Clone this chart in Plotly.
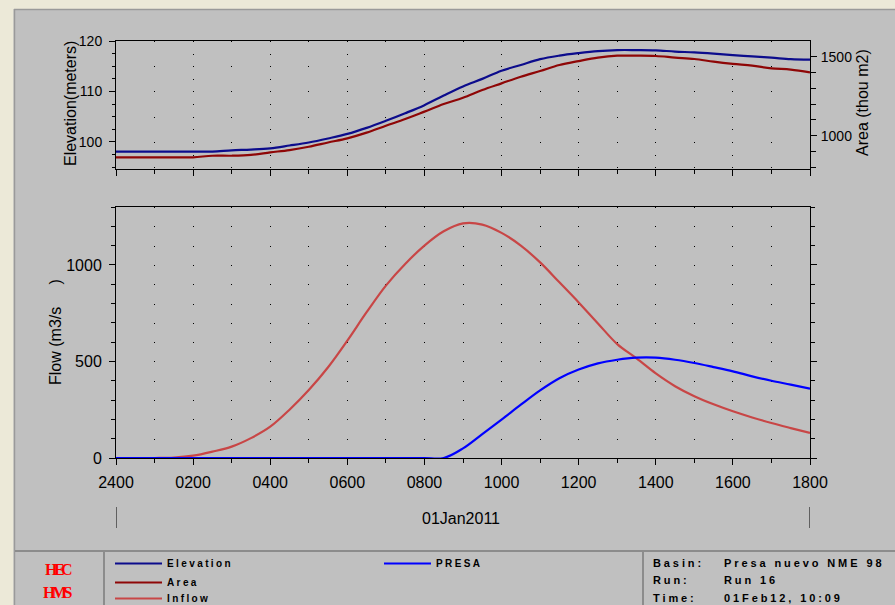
import plotly.graph_objects as go

# ---------------- data ----------------
hours = [0, 0.5, 1, 1.5, 2, 2.5, 3, 3.5, 4, 4.5, 5, 5.5, 6, 6.5, 7, 7.5, 8, 8.5, 9,
         9.5, 10, 10.5, 11, 11.5, 12, 12.5, 13, 13.5, 14, 14.5, 15, 15.5, 16, 16.5,
         17, 17.5, 18]
tick_hours = [0, 2, 4, 6, 8, 10, 12, 14, 16, 18]
tick_labels = ["2400", "0200", "0400", "0600", "0800", "1000", "1200", "1400", "1600", "1800"]

elevation = [98.1, 98.1, 98.1, 98.1, 98.1, 98.1, 98.35, 98.5, 98.75, 99.3, 99.9, 100.7,
             101.6, 102.8, 104.2, 105.7, 107.3, 109.2, 111.0, 112.5, 114.1, 115.25, 116.4,
             117.1, 117.6, 118.0, 118.2, 118.2, 118.15, 117.9, 117.75, 117.5, 117.2,
             116.95, 116.7, 116.4, 116.3]
area = [863, 863, 863, 863, 863, 873, 873, 878, 894, 909, 930, 957, 983, 1019, 1063, 1105,
        1152, 1200, 1240, 1289, 1331, 1373, 1409, 1447, 1472, 1494, 1506, 1506, 1504, 1494,
        1485, 1468, 1454, 1443, 1426, 1418, 1401]
inflow = [0, 0, 0, 2, 12, 33, 59, 103, 162, 250, 352, 470, 608, 755, 893, 1005, 1100, 1174,
          1215, 1209, 1166, 1100, 1013, 910, 806, 697, 590, 516, 438, 372, 320, 278, 242,
          210, 181, 155, 130]
presa = [0, 0, 0, 0, 0, 0, 0, 0, 0, 0, 0, 0, 0, 0, 0, 0, 0, 0, 50, 124, 199, 276, 350,
         413, 458, 490, 509, 520, 520, 509, 492, 471, 449, 423, 400, 380, 359]

elev_ticks = [100, 110, 120]
area_ticks = [1000, 1500]
flow_ticks = [0, 500, 1000]

series_names = ["Elevation", "Area", "Inflow", "PRESA"]
date_label = "01Jan2011"
info_labels = ["Basin:", "Run:", "Time:"]
info_values = ["Presa nuevo NME 98", "Run 16", "01Feb12, 10:09"]

# ---------------- geometry / style ----------------
W, H = 895, 605


def fx(p):
    return p / W


def fy(p):
    return 1 - p / H


PL, PR = 116, 810
TT, TB = 41, 169
BT, BB = 207, 458

BG = "#C0C0C0"
C_ELEV = "#0C0C8C"
C_AREA = "#8E0606"
C_INFL = "#C84646"
C_PRESA = "#0000FF"

SANS = "Liberation Sans, Arial, sans-serif"
tickfont = dict(family=SANS, size=16, color="black")
tickfont_top = dict(family=SANS, size=14, color="black")

top_len = TB - TT
elev_range = [94.65, 120]
px_per_m = top_len / (elev_range[1] - elev_range[0])
bot_len = BB - BT
flow_range = [0, 1300]
px_per_100 = bot_len / (flow_range[1] - flow_range[0]) * 100

dash_even = "1px,%.3fpx" % (2.5 * px_per_m - 1)
dash_odd = "1px,%.3fpx" % (5 * px_per_m - 1)
dash_bot = "1px,%.3fpx" % (px_per_100 - 1)


def spaced(t, s):
    return "<span style='letter-spacing:%spx'>%s</span>" % (s, t)


legend_ids = ["legend", "legend3", "legend4", "legend2"]
SMOOTH = 1.0

fig = go.Figure()
fig.add_trace(go.Scatter(x=hours, y=elevation, xaxis="x", yaxis="y", mode="lines",
                         name=spaced(series_names[0], 2.4), legend=legend_ids[0],
                         line=dict(color=C_ELEV, width=2.2, shape="spline", smoothing=SMOOTH)))
fig.add_trace(go.Scatter(x=hours, y=area, xaxis="x", yaxis="y2", mode="lines",
                         name=spaced(series_names[1], 2.4), legend=legend_ids[1],
                         line=dict(color=C_AREA, width=2.2, shape="spline", smoothing=SMOOTH)))
fig.add_trace(go.Scatter(x=hours, y=inflow, xaxis="x2", yaxis="y3", mode="lines",
                         name=spaced(series_names[2], 2.4), legend=legend_ids[2],
                         line=dict(color=C_INFL, width=2.2, shape="spline", smoothing=SMOOTH)))
fig.add_trace(go.Scatter(x=hours, y=presa, xaxis="x2", yaxis="y3", mode="lines",
                         name=spaced(series_names[3], 2.4), legend=legend_ids[3],
                         line=dict(color=C_PRESA, width=2.2, shape="spline", smoothing=SMOOTH)))

xdom = [fx(PL), fx(PR)]
x_base = dict(domain=xdom, range=[hours[0], hours[-1]], tickvals=tick_hours,
              ticktext=tick_labels, showline=True, mirror=True, linecolor="black",
              linewidth=1, ticks="outside", ticklen=6, tickcolor="black", zeroline=False,
              tickfont=tickfont, fixedrange=True)

top_minor = dict(dtick=1, tick0=0, ticks="outside", ticklen=4, tickcolor="black",
                 showgrid=True, griddash=dash_odd, gridcolor="black", gridwidth=1)
bot_minor = dict(dtick=1, tick0=0, ticks="outside", ticklen=4, tickcolor="black",
                 showgrid=True, griddash=dash_bot, gridcolor="black", gridwidth=1)

top_ticks_axis = dict(range=[hours[0], hours[-1]], tickvals=tick_hours, side="top",
                      showticklabels=False, ticks="inside", ticklen=6, tickcolor="black",
                      showgrid=False, showline=False, zeroline=False,
                      minor=dict(dtick=1, tick0=0, ticks="inside", ticklen=4,
                                 tickcolor="black", showgrid=False))

legend_style = dict(xanchor="left", yanchor="top", bgcolor="rgba(0,0,0,0)", borderwidth=0,
                    itemwidth=47, font=dict(family=SANS, size=10, color="black",
                                            weight="bold"))
legend_pos = {"legend": (110, 563), "legend3": (110, 582), "legend4": (110, 598),
              "legend2": (379, 563)}
legend_layout = {k: dict(legend_style, x=fx(v[0]), y=fy(v[1] - 14))
                 for k, v in legend_pos.items()}

fig.update_layout(
    width=W, height=H, autosize=False,
    margin=dict(l=0, r=0, t=0, b=0, pad=0, autoexpand=False),
    paper_bgcolor=BG, plot_bgcolor=BG,
    font=dict(family=SANS, size=16, color="black"),
    xaxis=dict(**x_base, anchor="y", showticklabels=False, showgrid=True,
               griddash=dash_even, gridcolor="black", gridwidth=1, minor=top_minor),
    xaxis2=dict(**x_base, anchor="y3", showticklabels=True, ticklabelstandoff=4,
                showgrid=True, griddash=dash_bot, gridcolor="black", gridwidth=1,
                minor=bot_minor),
    xaxis3=dict(**top_ticks_axis, overlaying="x", anchor="y"),
    xaxis4=dict(**top_ticks_axis, overlaying="x2", anchor="y3"),
    yaxis=dict(domain=[fy(TB), fy(TT)], anchor="x", range=elev_range, tickvals=elev_ticks,
               showline=True, linecolor="black", linewidth=1, ticks="outside", ticklen=6,
               tickcolor="black", showgrid=False, zeroline=False, tickfont=tickfont_top,
               ticklabelstandoff=4, fixedrange=True,
               minor=dict(dtick=2.5, tick0=0, ticks="outside", ticklen=3,
                          tickcolor="black", showgrid=False)),
    yaxis2=dict(overlaying="y", side="right", anchor="x", range=[789, 1599],
                tickvals=area_ticks, showline=True, linecolor="black", linewidth=1,
                ticks="outside", ticklen=6, tickcolor="black", showgrid=False,
                zeroline=False, tickfont=tickfont_top, ticklabelstandoff=1, fixedrange=True,
                minor=dict(dtick=100, tick0=0, ticks="outside", ticklen=5,
                           tickcolor="black", showgrid=False)),
    yaxis3=dict(domain=[fy(BB), fy(BT)], anchor="x2", range=flow_range, tickvals=flow_ticks,
                showline=True, mirror="ticks", linecolor="black", linewidth=1,
                ticks="outside", ticklen=6, tickcolor="black", showgrid=False,
                zeroline=False, tickfont=tickfont, ticklabelstandoff=4, fixedrange=True,
                minor=dict(dtick=100, tick0=0, ticks="outside", ticklen=4,
                           tickcolor="black", showgrid=False)),
    showlegend=True,
    **legend_layout,
)

shapes = [
    # window frame (beige strips) and panel border
    dict(type="rect", xref="paper", yref="paper", x0=0, x1=1, y0=fy(9), y1=1,
         fillcolor="#ECE9D8", line=dict(width=0), layer="below"),
    dict(type="rect", xref="paper", yref="paper", x0=0, x1=fx(13.5), y0=0, y1=1,
         fillcolor="#ECE9D8", line=dict(width=0), layer="below"),
    dict(type="line", xref="paper", yref="paper", x0=fx(14), x1=1, y0=fy(9.5), y1=fy(9.5),
         line=dict(color="#9a9a9a", width=1.5)),
    dict(type="line", xref="paper", yref="paper", x0=fx(14.5), x1=fx(14.5), y0=0, y1=fy(9),
         line=dict(color="#9a9a9a", width=1.5)),
    # legend panel separators
    dict(type="line", xref="paper", yref="paper", x0=fx(15), x1=1, y0=fy(551), y1=fy(551),
         line=dict(color="#8c8c8c", width=2)),
    dict(type="line", xref="paper", yref="paper", x0=fx(104), x1=fx(104), y0=0, y1=fy(551),
         line=dict(color="#8c8c8c", width=2)),
    dict(type="line", xref="paper", yref="paper", x0=fx(643), x1=fx(643), y0=0, y1=fy(551),
         line=dict(color="#8c8c8c", width=2)),
    # day markers
    dict(type="line", xref="x2", yref="paper", x0=hours[0], x1=hours[0], y0=fy(528),
         y1=fy(507), line=dict(color="black", width=1)),
    dict(type="line", xref="x2", yref="paper", x0=hours[-1], x1=hours[-1], y0=fy(528),
         y1=fy(507), line=dict(color="black", width=1)),
]

annotations = [
    dict(text="Elevation(meters)", x=fx(70), y=fy(104), textangle=-90,
         font=dict(family=SANS, size=16, color="black")),
    dict(text="Area (thou m2)", x=fx(863), y=fy(103), textangle=-90,
         font=dict(family=SANS, size=16, color="black")),
    dict(text="Flow (m3/s\u00a0\u00a0\u00a0\u00a0\u00a0)", x=fx(55), y=fy(332), textangle=-90,
         font=dict(family=SANS, size=16, color="black")),
    dict(text=date_label, x=fx(461), y=fy(518),
         font=dict(family=SANS, size=16, color="black")),
    dict(text=spaced("HEC", -3.5), x=fx(58), y=fy(569),
         font=dict(family="Liberation Serif, serif", size=16, color="#FF0000", weight="bold")),
    dict(text=spaced("HMS", -3.5), x=fx(58), y=fy(592),
         font=dict(family="Liberation Serif, serif", size=16, color="#FF0000", weight="bold")),
]
for a in annotations:
    a.update(xanchor="center")
for i, (lab, val) in enumerate(zip(info_labels, info_values)):
    yy = [563, 580, 598][i]
    annotations.append(dict(text=spaced(lab, 2.9), x=fx(651), y=fy(yy), xanchor="left",
                            font=dict(family=SANS, size=11, color="black", weight="bold")))
    annotations.append(dict(text=spaced(val, 2.9), x=fx(722), y=fy(yy), xanchor="left",
                            font=dict(family=SANS, size=11, color="black", weight="bold")))
for a in annotations:
    a.update(xref="paper", yref="paper", showarrow=False, yanchor="middle")

fig.update_layout(shapes=shapes, annotations=annotations)

fig.write_html("out.html",
               config={"displayModeBar": False, "staticPlot": True},
               post_script="document.body.style.margin='0px';"
                           "document.body.style.overflow='hidden';")
